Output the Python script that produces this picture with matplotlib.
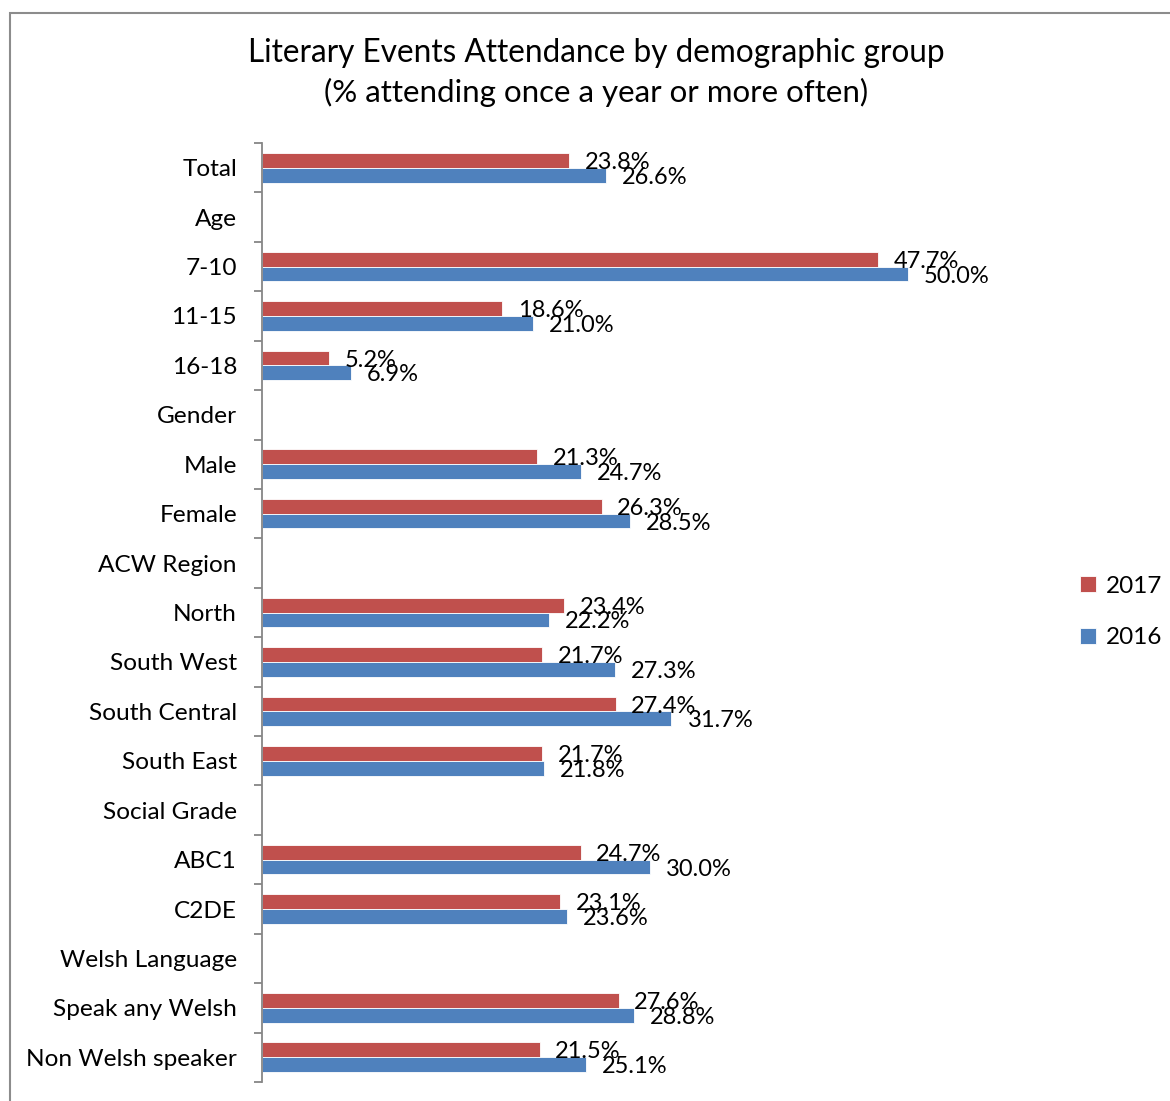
import numpy as np
import matplotlib
matplotlib.use("Agg")
import matplotlib.pyplot as plt
from matplotlib.patches import Rectangle

categories = ["Total", "Age", "7-10", "11-15", "16-18", "Gender", "Male", "Female",
              "ACW Region", "North", "South West", "South Central", "South East",
              "Social Grade", "ABC1", "C2DE", "Welsh Language", "Speak any Welsh",
              "Non Welsh speaker"]
values_2017 = [23.8, np.nan, 47.7, 18.6, 5.2, np.nan, 21.3, 26.3, np.nan, 23.4, 21.7,
               27.4, 21.7, np.nan, 24.7, 23.1, np.nan, 27.6, 21.5]
values_2016 = [26.6, np.nan, 50.0, 21.0, 6.9, np.nan, 24.7, 28.5, np.nan, 22.2, 27.3,
               31.7, 21.8, np.nan, 30.0, 23.6, np.nan, 28.8, 25.1]
series_names = ["2017", "2016"]

RED = "#C0504D"
BLUE = "#4F81BD"
FONT = ["Lato", "DejaVu Sans"]
plt.rcParams["font.family"] = FONT

W, H = 1170, 1101
fig = plt.figure(figsize=(W / 100, H / 100), dpi=100)

# outer chart frame
fig.add_artist(Rectangle((10 / W, -0.01), 1.0, 1 - 13 / H + 0.01, transform=fig.transFigure,
                         fill=False, edgecolor="#8c8c8c", linewidth=1.5))

ax_left, ax_right = 262 / W, 1037 / W
ax_top, ax_bot = 1 - 143 / H, 1 - 1082 / H
ax = fig.add_axes([ax_left, ax_bot, ax_right - ax_left, ax_top - ax_bot])

y = np.arange(len(categories))
h = 0.3
b17 = ax.barh(y - 0.15, values_2017, height=h, color=RED, edgecolor="white",
              linewidth=0.6, label=series_names[0])
b16 = ax.barh(y + 0.15, values_2016, height=h, color=BLUE, edgecolor="white",
              linewidth=0.6, label=series_names[1])

ax.set_xlim(0, 60)
ax.set_ylim(len(categories) - 0.5, -0.5)

for yi, v in zip(y, values_2017):
    if not np.isnan(v):
        ax.annotate(f"{v:.1f}%", (v, yi - 0.15), xytext=(11, -1.5),
                    textcoords="offset points", ha="left", va="center", fontsize=17)
for yi, v in zip(y, values_2016):
    if not np.isnan(v):
        ax.annotate(f"{v:.1f}%", (v, yi + 0.15), xytext=(11.5, -1.5),
                    textcoords="offset points", ha="left", va="center", fontsize=17)

for s in ["top", "right", "bottom"]:
    ax.spines[s].set_visible(False)
ax.spines["left"].set_color("#868686")
ax.spines["left"].set_linewidth(1.3)
ax.set_xticks([])
ax.set_yticks(y)
ax.set_yticklabels(categories, fontsize=17.6)
ax.tick_params(axis="y", which="major", length=0, pad=18)
ax.set_yticks(np.arange(-0.5, len(categories), 1.0), minor=True)
ax.tick_params(axis="y", which="minor", length=6, width=1.3, color="#868686", direction="out")

fig.text(596 / W, 1 - 53 / H, "Literary Events Attendance by demographic group",
         ha="center", va="center", fontsize=22.7)
fig.text(596 / W, 1 - 92 / H, "(% attending once a year or more often)",
         ha="center", va="center", fontsize=22.5)

fig.legend(handles=[b17, b16], labels=series_names, loc="center left",
           bbox_to_anchor=(1080 / W, 1 - 612 / H), frameon=False, fontsize=17.5,
           borderpad=0, borderaxespad=0,
           handlelength=0.65, handleheight=0.65, handletextpad=0.4, labelspacing=1.25)

fig.savefig("out.png", dpi=100)
